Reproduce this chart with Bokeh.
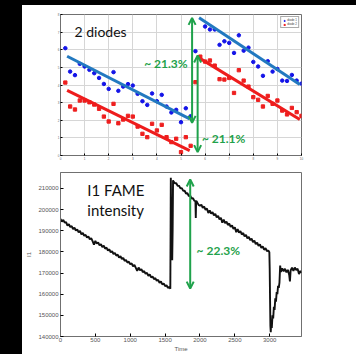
from bokeh.plotting import figure
from bokeh.layouts import row, column
from bokeh.models import (Range1d, FixedTicker, Arrow, OpenHead, Label, Legend,
                          LegendItem, Spacer, BasicTickFormatter)
from bokeh.embed import file_html
from bokeh.resources import INLINE

# ---------------- top panel data (2 diodes) ----------------
blue_x = [0.2, 0.4, 0.6, 0.8, 1.0, 1.2, 1.4, 1.6, 1.8, 2.0, 2.2, 2.4, 2.6, 2.8,
          3.0, 3.2, 3.4, 3.6, 3.8, 4.0, 4.2, 4.4, 4.6, 4.8, 5.0, 5.2, 5.4, 5.6,
          6.0, 6.2, 6.4, 6.6, 6.8, 7.0, 7.2, 7.4, 7.6, 7.8, 8.0, 8.2, 8.4, 8.6,
          8.8, 9.0, 9.2, 9.4, 9.6, 9.8, 10.0]
blue_y = [6.09, 4.76, 4.56, 5.20, 5.05, 4.86, 4.67, 4.40, 4.06, 3.78, 4.73, 3.67,
          3.91, 4.05, 3.97, 3.50, 3.08, 2.87, 3.52, 3.08, 3.44, 2.78, 2.44, 2.59,
          1.89, 2.68, 2.23, 5.92,
          7.32, 7.15, 7.15, 6.28, 6.48, 6.39, 5.82, 6.82, 5.95, 6.12, 5.31, 5.05,
          4.52, 5.35, 4.76, 4.91, 4.25, 4.23, 4.57, 4.25, 4.08]
red_x = [0.2, 0.4, 0.6, 0.8, 1.0, 1.2, 1.4, 1.6, 1.8, 2.0, 2.2, 2.4, 2.6, 2.8,
         3.0, 3.2, 3.4, 3.6, 3.8, 4.0, 4.2, 4.4, 4.6, 4.8, 5.0, 5.2, 5.4, 5.6,
         5.8, 6.0, 6.2, 6.4, 6.6, 6.8, 7.0, 7.2, 7.4, 7.6, 7.8, 8.0, 8.2, 8.4,
         8.6, 8.8, 9.0, 9.2, 9.4, 9.6, 9.8, 10.0]
red_y = [4.14, 2.78, 2.61, 3.12, 3.12, 3.02, 2.89, 2.65, 2.21, 1.93, 2.93, 1.83,
         2.04, 2.25, 2.21, 1.64, 1.23, 1.04, 1.80, 1.42, 1.74, 1.04, 0.76, 0.95,
         0.19, 1.04, 0.55, 4.16,
         5.61, 5.33, 5.39, 5.10, 4.33, 4.31, 4.40, 3.55, 4.84, 4.25, 3.91, 3.31,
         3.16, 2.78, 3.38, 2.93, 3.12, 2.55, 2.33, 2.70, 2.46, 2.25]
fit_x = [[0.275, 5.36], [5.75, 9.93]]
blue_fit_y = [[5.63, 2.08], [7.81, 4.03]]
red_fit_y = [[3.69, 0.28], [5.54, 2.04]]

# ---------------- bottom panel data (I1 FAME intensity, in thousands) -------
seg1_t = [0, 20, 40, 60, 80, 100, 120, 140, 160, 180, 200, 220, 240, 260, 280,
          300, 320, 340, 360, 380, 400, 420, 440, 460, 480, 500, 520, 540, 560,
          580, 600, 620, 640, 660, 680, 700, 720, 740, 760, 780, 800, 820, 840,
          860, 880, 900, 920, 940, 960, 980, 1000, 1020, 1040, 1060, 1080, 1100,
          1120, 1140, 1160, 1180, 1200, 1220, 1240, 1260, 1280, 1300, 1320, 1340,
          1360, 1380, 1400, 1420, 1440, 1460, 1480, 1500, 1520, 1540, 1560, 1575]
seg1_v = [195.6, 194.3, 195.1, 193.8, 194.0, 192.4, 193.1, 191.7, 192.2, 190.8,
          191.4, 190.1, 190.6, 189.2, 189.9, 188.3, 188.9, 187.6, 188.0, 186.8,
          187.3, 185.9, 186.5, 185.1, 183.4, 185.2, 183.9, 184.5, 183.1, 183.6,
          182.2, 182.9, 181.5, 182.0, 180.6, 181.2, 179.8, 180.3, 179.0, 179.5,
          178.2, 178.7, 177.3, 177.9, 176.6, 177.1, 175.7, 176.2, 174.9, 175.4,
          174.1, 174.6, 173.2, 173.8, 172.4, 171.0, 172.6, 171.3, 171.8, 170.4,
          170.9, 169.6, 170.1, 168.7, 169.3, 167.9, 168.4, 167.1, 167.6, 166.3,
          166.8, 165.4, 166.0, 164.6, 165.1, 163.8, 164.2, 163.0, 163.4, 162.6]
spike_t = [1582, 1590, 1596, 1602, 1608, 1614]
spike_v = [215.0, 186.0, 180.0, 176.0, 190.0, 213.8]
seg2_t = [1620, 1640, 1660, 1680, 1700, 1720, 1740, 1760, 1780, 1800, 1820, 1840,
          1860, 1880, 1900, 1920, 1935, 1940, 1945, 1960, 1980,
          2000, 2020, 2040, 2060, 2080, 2100, 2120, 2140, 2160, 2180, 2200, 2220,
          2240, 2260, 2280, 2300, 2320, 2340, 2360, 2380, 2400, 2420, 2440, 2460,
          2480, 2500, 2520, 2540, 2560, 2580, 2600, 2620, 2640, 2660, 2680, 2700,
          2720, 2740, 2760, 2780, 2800, 2820, 2840, 2860, 2880, 2900, 2920, 2940,
          2960, 2980, 2995]
seg2_v = [213.4, 212.4, 212.4, 211.2, 211.2, 210.0, 210.1, 208.8, 208.9, 207.6,
          207.7, 206.4, 206.6, 205.2, 205.4, 204.1, 204.0, 196.0, 204.2, 203.4,
          202.2,
          201.8, 202.3, 200.8, 201.4, 199.9, 200.5, 198.4, 199.6, 198.1, 198.8,
          197.2, 197.9, 196.3, 197.0, 195.4, 196.1, 193.8, 195.2, 193.6, 194.3,
          192.7, 193.4, 191.8, 192.5, 190.9, 191.6, 189.3, 190.7, 189.1, 189.8,
          188.2, 188.9, 187.3, 188.0, 186.4, 187.1, 185.5, 186.2, 184.6, 185.3,
          183.7, 184.4, 182.8, 183.5, 181.9, 182.6, 181.0, 181.7, 180.4, 180.6,
          179.8]
seg3_t = [3000, 3005, 3010, 3015, 3022, 3030, 3040, 3050, 3060, 3070, 3080, 3090,
          3100, 3110, 3120, 3130, 3140, 3150, 3160, 3180, 3200, 3220, 3240, 3260,
          3280, 3290, 3300, 3320, 3340, 3360, 3380, 3400, 3420, 3440, 3450]
seg3_v = [172.0, 158.0, 145.0, 142.0, 146.5, 144.0, 150.0, 148.5, 154.0, 152.5,
          158.0, 156.5, 161.0, 160.0, 164.0, 163.0, 165.5, 173.5, 170.5, 172.2,
          170.8, 172.0, 170.3, 171.5, 169.0, 166.0, 171.2, 172.5, 171.0, 172.6,
          171.4, 172.0, 169.5, 171.0, 170.0]

time = seg1_t + spike_t + seg2_t + seg3_t
intensity = [v * 1000 for v in seg1_v + spike_v + seg2_v + seg3_v]
assert len(time) == len(intensity)
assert len(blue_x) == len(blue_y) and len(red_x) == len(red_y)

x_ticks_bottom = [0, 500, 1000, 1500, 2000, 2500, 3000]
y_ticks_bottom = [140000, 150000, 160000, 170000, 180000, 190000, 200000, 210000]

GREEN = "#1fa24b"
FONT = "Lato"

# ---------------- top figure ----------------
top = figure(width=334, height=160, x_range=Range1d(0, 10), y_range=Range1d(0, 8),
             output_backend="svg", toolbar_location=None,
             min_border_left=37, min_border_right=55, min_border_top=9,
             min_border_bottom=10)
top.outline_line_color = "#707070"
top.xaxis.ticker = FixedTicker(ticks=list(range(0, 11)))
top.yaxis.ticker = FixedTicker(ticks=list(range(0, 9)))
top.grid.grid_line_color = "#d6d6d6"
for ax in top.axis:
    ax.major_label_text_font_size = "3px"
    ax.major_label_text_color = "#666666"
    ax.axis_line_color = "#707070"
    ax.major_tick_in = 2
    ax.major_tick_out = 0
    ax.minor_tick_line_color = None
    ax.major_label_standoff = 1

r_b = top.scatter(blue_x, blue_y, marker="circle", size=3.5, color="#1414e8")
r_r = top.scatter(red_x, red_y, marker="square", size=3.3, color="#ee1f1f")
top.multi_line(fit_x, blue_fit_y, line_color="#2279c0", line_width=3)
top.multi_line(fit_x, red_fit_y, line_color="#ee1c1c", line_width=3)

legend = Legend(items=[LegendItem(label="diode 1", renderers=[r_b]),
                       LegendItem(label="diode 2", renderers=[r_r])],
                location="top_right", label_text_font_size="3px",
                glyph_width=4, glyph_height=3, label_height=3, label_width=8,
                padding=1, spacing=0, margin=2, label_standoff=1,
                border_line_color="#555555")
top.add_layout(legend)

for xa, y0, y1 in [(5.46, 1.85, 7.81), (5.69, 0.19, 5.67)]:
    top.add_layout(Arrow(start=OpenHead(size=7, line_color=GREEN, line_width=2),
                         end=OpenHead(size=7, line_color=GREEN, line_width=2),
                         x_start=xa, y_start=y0, x_end=xa, y_end=y1,
                         line_color=GREEN, line_width=2))

top.add_layout(Label(x=0.58, y=7.05, text="2 diodes", text_font=FONT,
                     text_font_size="14px", text_color="#111111",
                     text_baseline="middle"))
top.add_layout(Label(x=3.47, y=5.24, text="~ 21.3%", text_font=FONT,
                     text_font_size="12px", text_font_style="bold",
                     text_color=GREEN, text_baseline="middle"))
top.add_layout(Label(x=5.87, y=0.95, text="~ 21.1%", text_font=FONT,
                     text_font_size="12px", text_font_style="bold",
                     text_color=GREEN, text_baseline="middle"))

# ---------------- bottom figure ----------------
bot = figure(width=334, height=189, x_range=Range1d(0, 3456),
             y_range=Range1d(140000, 217500),
             output_backend="svg", toolbar_location=None,
             min_border_left=38, min_border_right=8, min_border_top=7,
             min_border_bottom=16)
bot.outline_line_color = "#707070"
bot.grid.grid_line_color = None
bot.xaxis.ticker = FixedTicker(ticks=x_ticks_bottom)
bot.yaxis.ticker = FixedTicker(ticks=y_ticks_bottom)
bot.yaxis.formatter = BasicTickFormatter(use_scientific=False)
for ax in bot.axis:
    ax.major_label_text_font_size = "6px"
    ax.major_label_text_color = "#555555"
    ax.axis_line_color = "#707070"
    ax.major_tick_in = 3
    ax.major_tick_out = 0
    ax.minor_tick_line_color = None
    ax.major_label_standoff = 1
    ax.axis_label_text_font_size = "6px"
    ax.axis_label_text_font_style = "normal"
    ax.axis_label_text_color = "#555555"
    ax.axis_label_standoff = 1
bot.yaxis.major_label_standoff = 2
bot.yaxis.axis_label_standoff = 3
bot.xaxis.axis_label = "Time"
bot.yaxis.axis_label = "I1"

bot.line(time, intensity, line_color="#111111", line_width=1.9)

bot.add_layout(Arrow(start=OpenHead(size=7, line_color=GREEN, line_width=2),
                     end=OpenHead(size=7, line_color=GREEN, line_width=2),
                     x_start=1860, y_start=162600, x_end=1860, y_end=214200,
                     line_color=GREEN, line_width=2))
bot.add_layout(Label(x=384, y=209100, text="I1 FAME", text_font=FONT,
                     text_font_size="15px", text_color="#111111",
                     text_baseline="middle"))
bot.add_layout(Label(x=384, y=199800, text="intensity", text_font=FONT,
                     text_font_size="15px", text_color="#111111",
                     text_baseline="middle"))
bot.add_layout(Label(x=1952, y=180700, text="~ 22.3%", text_font=FONT,
                     text_font_size="12px", text_font_style="bold",
                     text_color=GREEN, text_baseline="middle"))

top_strip = Spacer(width=356, height=5, styles={"background-color": "#000000"})
left_strip = Spacer(width=22, height=349, styles={"background-color": "#000000"})
p = column(top_strip,
           row(left_strip, column(top, bot, spacing=0), spacing=0),
           spacing=0)

open("out.html", "w").write(file_html(p, INLINE))
